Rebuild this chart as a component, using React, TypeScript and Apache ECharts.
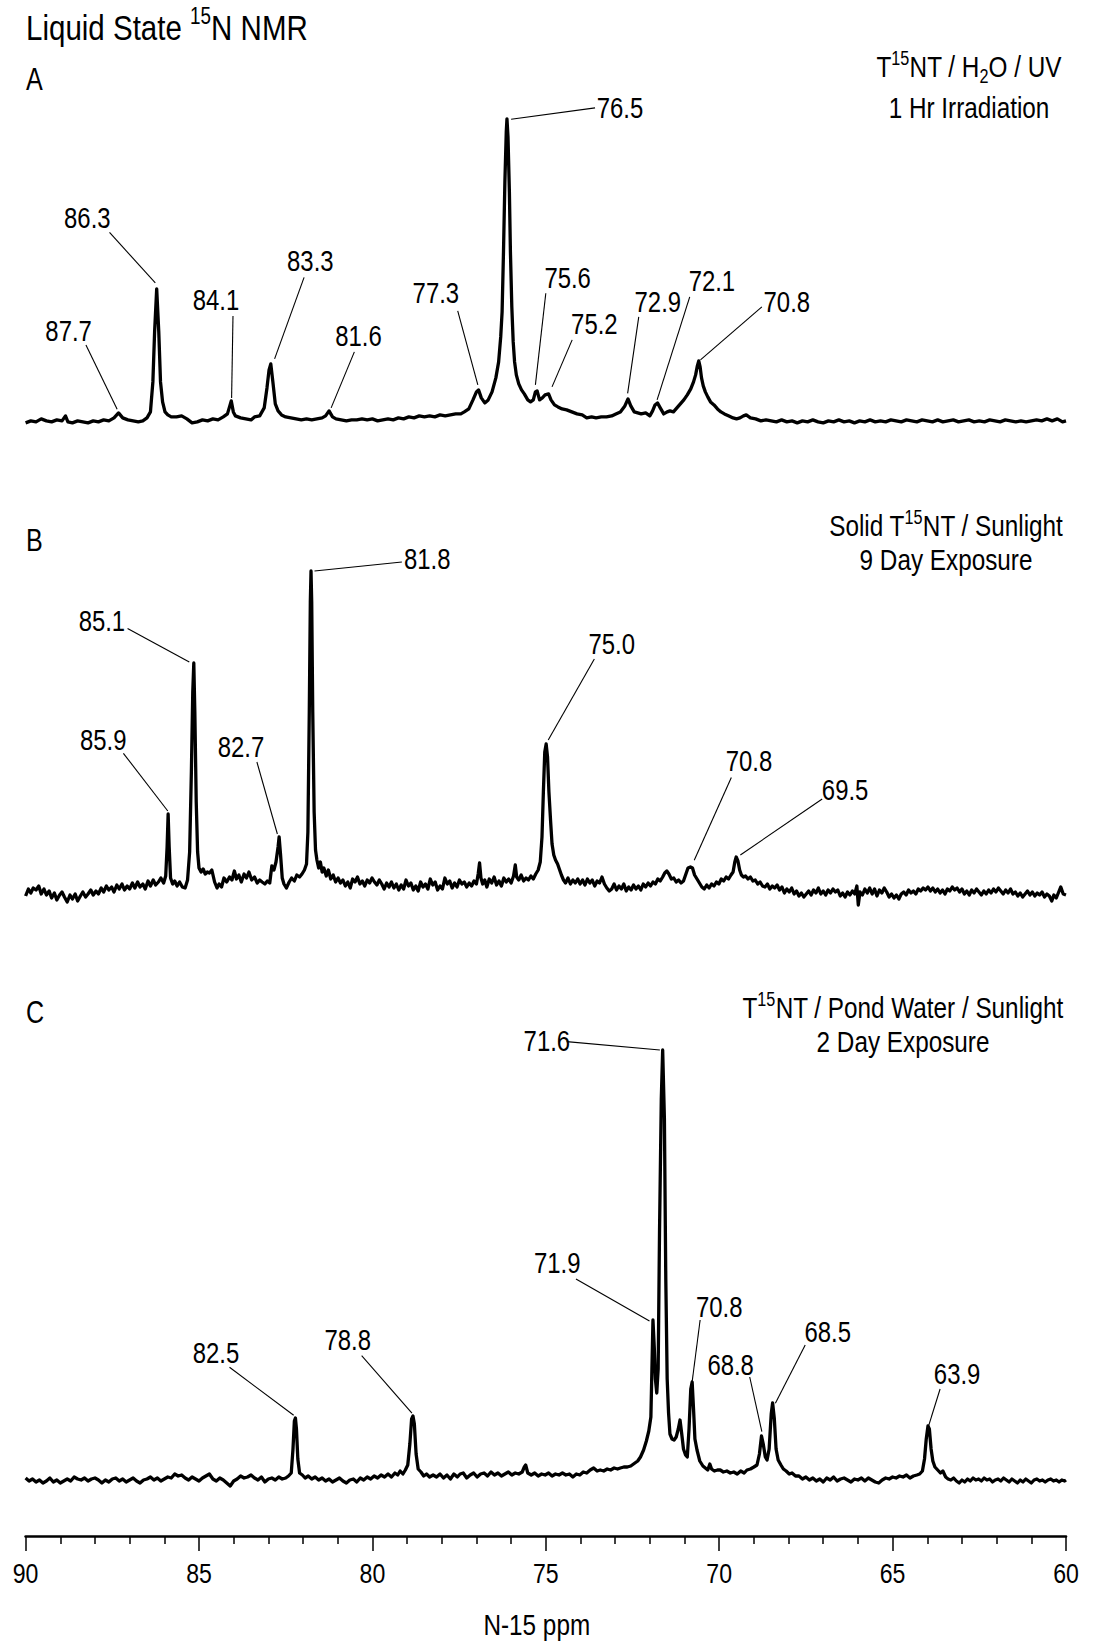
import React, { useEffect, useRef } from "react";
import * as echarts from "echarts";

const FONT = "'Liberation Sans', Arial, sans-serif";
const NARROW = 0.81;

// x tick values (ppm)
const xTicks = [90, 85, 80, 75, 70, 65, 60];
const xTitle = "N-15 ppm";

// Spectrum A: [ppm, intensity]
const spectrumA: number[][] = [
  [90.0, -1], [89.85, 1], [89.7, 0], [89.55, 3], [89.4, 1], [89.25, 0], [89.1, 2], [88.95, 1], [88.85, 6], [88.78, 0],
  [88.65, -1], [88.5, 1], [88.35, 0], [88.2, -1], [88.05, 1], [87.9, 0], [87.75, 2], [87.6, 1], [87.45, 4], [87.32, 9],
  [87.2, 4], [87.05, 2], [86.9, 1], [86.75, 0], [86.62, 1], [86.5, 4], [86.4, 10], [86.33, 40], [86.28, 90], [86.22, 133],
  [86.16, 90], [86.11, 40], [86.05, 20], [85.98, 10], [85.9, 7], [85.8, 5], [85.65, 5], [85.5, 6], [85.35, 3], [85.2, -1],
  [85.05, 0], [84.9, 2], [84.75, 1], [84.6, 3], [84.45, 2], [84.3, 5], [84.18, 8], [84.12, 15], [84.07, 21], [84.01, 10],
  [83.95, 6], [83.8, 4], [83.65, 3], [83.5, 2], [83.4, 5], [83.25, 6], [83.12, 14], [83.04, 34], [82.98, 52], [82.93, 58],
  [82.87, 40], [82.8, 18], [82.72, 11], [82.62, 7], [82.5, 5], [82.35, 4], [82.2, 3], [82.05, 2], [81.9, 3], [81.75, 2],
  [81.6, 3], [81.45, 4], [81.35, 6], [81.25, 11], [81.15, 5], [81.05, 3], [80.9, 2], [80.75, 1], [80.6, 2], [80.45, 2],
  [80.3, 3], [80.15, 2], [80.0, 3], [79.85, 1], [79.7, 2], [79.55, 3], [79.4, 2], [79.25, 4], [79.1, 3], [78.95, 5],
  [78.8, 4], [78.65, 6], [78.5, 5], [78.35, 6], [78.2, 5], [78.05, 7], [77.9, 6], [77.75, 7], [77.6, 8], [77.45, 8],
  [77.35, 10], [77.22, 13], [77.1, 22], [77.0, 30], [76.94, 32], [76.86, 24], [76.76, 19], [76.66, 22], [76.55, 30], [76.44, 44],
  [76.36, 60], [76.3, 85], [76.26, 110], [76.22, 170], [76.18, 240], [76.14, 290], [76.12, 303], [76.09, 285], [76.05, 230], [76.02, 170],
  [75.98, 115], [75.94, 80], [75.9, 60], [75.85, 47], [75.78, 38], [75.7, 32], [75.62, 28], [75.52, 22], [75.44, 20], [75.36, 22],
  [75.3, 30], [75.25, 31], [75.18, 22], [75.1, 24], [75.02, 27], [74.92, 28], [74.85, 22], [74.75, 17], [74.65, 15], [74.53, 13],
  [74.4, 12], [74.25, 10], [74.1, 8], [73.95, 7], [73.82, 4], [73.68, 5], [73.55, 4], [73.4, 5], [73.25, 5], [73.1, 6],
  [72.98, 8], [72.85, 10], [72.72, 16], [72.63, 23], [72.55, 16], [72.45, 10], [72.35, 9], [72.25, 8], [72.12, 9], [72.0, 6],
  [71.92, 11], [71.85, 17], [71.78, 19], [71.7, 14], [71.6, 8], [71.5, 10], [71.42, 11], [71.32, 10], [71.22, 14], [71.12, 18],
  [71.02, 22], [70.92, 27], [70.82, 33], [70.74, 40], [70.68, 47], [70.63, 56], [70.59, 61], [70.55, 55], [70.51, 44], [70.46, 36],
  [70.4, 30], [70.33, 25], [70.25, 20], [70.15, 17], [70.05, 13], [69.95, 10], [69.85, 8], [69.72, 6], [69.6, 4], [69.5, 3],
  [69.4, 4], [69.3, 6], [69.22, 7], [69.1, 4], [68.95, 3], [68.8, 1], [68.65, 2], [68.5, 1], [68.35, 0], [68.2, 2],
  [68.05, 0], [67.9, 1], [67.75, -1], [67.6, 1], [67.45, 0], [67.3, 2], [67.15, 0], [67.0, -1], [66.85, 1], [66.7, 0],
  [66.55, 2], [66.4, 0], [66.25, 1], [66.1, -1], [65.95, 1], [65.8, 0], [65.65, 2], [65.5, 0], [65.35, 1], [65.2, 0],
  [65.05, 2], [64.9, 1], [64.75, 0], [64.6, 2], [64.45, 1], [64.3, 0], [64.15, 2], [64.0, 1], [63.85, 0], [63.7, 2],
  [63.55, 0], [63.4, 1], [63.25, 2], [63.1, 0], [62.95, 1], [62.8, 2], [62.65, 0], [62.5, 1], [62.35, 0], [62.2, 2],
  [62.05, 1], [61.9, 0], [61.75, 2], [61.6, 1], [61.45, 0], [61.3, 1], [61.15, 0], [61.0, 1], [60.85, 2], [60.7, 1],
  [60.55, 3], [60.4, 1], [60.25, 3], [60.1, 0], [60.0, 1],
];

// Spectrum B
const spectrumB: number[][] = [
  [90.0, -4], [89.92, 3], [89.85, -1], [89.78, 4], [89.7, 2], [89.62, 6], [89.55, -2], [89.47, 3], [89.4, -3], [89.32, 1],
  [89.25, -6], [89.17, -1], [89.1, -8], [89.02, -3], [88.95, 0], [88.88, -5], [88.8, -10], [88.72, -3], [88.65, -7], [88.57, -2],
  [88.5, -9], [88.42, -4], [88.35, 0], [88.27, -5], [88.2, -2], [88.12, 2], [88.05, -3], [87.97, 1], [87.9, -2], [87.82, 4],
  [87.75, 0], [87.67, 6], [87.6, 2], [87.52, 5], [87.45, 0], [87.37, 7], [87.3, 3], [87.22, 8], [87.15, 2], [87.07, 6],
  [87.0, 3], [86.92, 9], [86.85, 4], [86.77, 10], [86.7, 5], [86.62, 8], [86.55, 3], [86.47, 11], [86.4, 6], [86.32, 12],
  [86.25, 7], [86.17, 10], [86.1, 14], [86.02, 9], [85.96, 16], [85.92, 45], [85.89, 78], [85.86, 45], [85.82, 14], [85.76, 8],
  [85.7, 11], [85.63, 6], [85.56, 10], [85.48, 5], [85.4, 4], [85.33, 12], [85.27, 40], [85.22, 120], [85.18, 200], [85.15, 229],
  [85.12, 180], [85.08, 90], [85.04, 40], [85.0, 24], [84.94, 20], [84.88, 23], [84.82, 18], [84.76, 20], [84.7, 19], [84.63, 22],
  [84.55, 10], [84.48, 4], [84.42, 8], [84.35, 5], [84.28, 14], [84.2, 10], [84.12, 15], [84.05, 12], [83.98, 21], [83.92, 13],
  [83.85, 17], [83.78, 10], [83.7, 18], [83.63, 14], [83.56, 20], [83.48, 12], [83.4, 15], [83.32, 9], [83.25, 12], [83.18, 10],
  [83.1, 8], [83.03, 11], [82.96, 9], [82.9, 26], [82.84, 22], [82.78, 30], [82.72, 45], [82.69, 55], [82.65, 38], [82.6, 14],
  [82.55, 8], [82.48, 4], [82.4, 10], [82.33, 14], [82.25, 11], [82.18, 17], [82.1, 15], [82.03, 18], [81.96, 22], [81.9, 28],
  [81.86, 60], [81.82, 180], [81.79, 290], [81.77, 321], [81.75, 290], [81.72, 180], [81.68, 80], [81.64, 42], [81.6, 32], [81.55, 24],
  [81.5, 30], [81.45, 20], [81.4, 24], [81.33, 16], [81.27, 22], [81.2, 13], [81.13, 17], [81.06, 10], [80.99, 14], [80.92, 9],
  [80.85, 12], [80.78, 6], [80.71, 10], [80.64, 4], [80.57, 13], [80.5, 10], [80.43, 15], [80.36, 8], [80.29, 11], [80.22, 6],
  [80.15, 12], [80.08, 9], [80.01, 14], [79.94, 10], [79.87, 7], [79.8, 12], [79.73, 8], [79.66, 3], [79.59, 9], [79.52, 5],
  [79.45, 10], [79.38, 4], [79.31, 8], [79.24, 2], [79.17, 7], [79.1, 3], [79.03, 12], [78.96, 6], [78.89, 9], [78.82, 2],
  [78.75, 6], [78.68, 1], [78.61, 10], [78.54, 5], [78.47, 8], [78.4, 3], [78.33, 13], [78.26, 7], [78.19, 10], [78.12, 2],
  [78.05, 6], [77.98, 3], [77.91, 14], [77.84, 8], [77.77, 11], [77.7, 4], [77.63, 9], [77.56, 5], [77.49, 12], [77.42, 8],
  [77.35, 10], [77.28, 5], [77.21, 9], [77.14, 6], [77.07, 11], [77.0, 8], [76.95, 18], [76.91, 29], [76.87, 14], [76.82, 8],
  [76.76, 12], [76.7, 5], [76.63, 13], [76.56, 9], [76.49, 15], [76.42, 7], [76.35, 11], [76.28, 6], [76.21, 14], [76.14, 10],
  [76.07, 13], [76.0, 9], [75.93, 16], [75.88, 27], [75.84, 15], [75.78, 12], [75.71, 17], [75.64, 11], [75.57, 14], [75.5, 12],
  [75.43, 16], [75.36, 13], [75.29, 18], [75.22, 22], [75.16, 30], [75.11, 55], [75.07, 100], [75.03, 140], [74.99, 148], [74.95, 135],
  [74.91, 100], [74.86, 70], [74.82, 48], [74.77, 37], [74.72, 32], [74.66, 28], [74.6, 22], [74.55, 17], [74.49, 12], [74.43, 9],
  [74.36, 14], [74.29, 8], [74.22, 12], [74.15, 9], [74.08, 13], [74.01, 8], [73.94, 12], [73.87, 7], [73.8, 13], [73.73, 9],
  [73.66, 12], [73.59, 6], [73.52, 11], [73.45, 9], [73.38, 15], [73.31, 8], [73.24, 4], [73.17, 1], [73.1, 3], [73.03, 8],
  [72.96, 2], [72.89, 6], [72.82, 3], [72.75, 8], [72.68, 1], [72.61, 5], [72.54, 2], [72.47, 7], [72.4, 3], [72.33, 6],
  [72.26, 2], [72.19, 8], [72.12, 5], [72.05, 9], [71.98, 6], [71.91, 10], [71.84, 8], [71.77, 13], [71.7, 11], [71.63, 15],
  [71.57, 19], [71.51, 21], [71.45, 18], [71.38, 13], [71.31, 14], [71.24, 10], [71.17, 12], [71.1, 9], [71.03, 11], [70.96, 18],
  [70.9, 24], [70.83, 25], [70.77, 24], [70.71, 17], [70.64, 13], [70.57, 9], [70.5, 5], [70.43, 3], [70.36, 7], [70.29, 4],
  [70.22, 8], [70.15, 6], [70.08, 10], [70.01, 8], [69.94, 13], [69.87, 11], [69.8, 15], [69.73, 13], [69.66, 17], [69.6, 20],
  [69.55, 30], [69.51, 35], [69.46, 31], [69.41, 22], [69.36, 17], [69.3, 15], [69.24, 16], [69.17, 13], [69.1, 15], [69.03, 11],
  [68.96, 12], [68.89, 8], [68.82, 10], [68.75, 6], [68.68, 5], [68.61, 8], [68.54, 3], [68.47, 6], [68.4, 4], [68.33, 7],
  [68.26, 2], [68.19, 5], [68.12, -1], [68.05, 3], [67.98, 0], [67.91, 4], [67.84, -2], [67.77, 1], [67.7, -4], [67.63, -1],
  [67.56, -5], [67.49, -2], [67.42, 1], [67.35, -3], [67.28, 2], [67.21, -1], [67.14, 4], [67.07, -2], [67.0, 1], [66.93, -3],
  [66.86, 2], [66.79, -1], [66.72, 3], [66.65, 0], [66.58, 2], [66.51, -4], [66.44, -1], [66.37, -5], [66.3, 0], [66.23, -3],
  [66.16, 1], [66.09, -2], [66.03, 6], [65.99, -13], [65.94, 0], [65.87, -3], [65.8, 3], [65.73, -1], [65.66, 4], [65.59, -2],
  [65.52, 3], [65.45, -4], [65.38, 2], [65.31, -1], [65.24, 4], [65.17, 0], [65.1, -5], [65.03, -2], [64.96, -6], [64.89, -3],
  [64.82, -7], [64.75, -2], [64.68, 0], [64.61, -3], [64.54, 2], [64.47, -1], [64.4, 1], [64.33, -2], [64.26, 3], [64.19, 1],
  [64.12, 4], [64.05, 2], [63.98, 5], [63.91, 1], [63.84, 4], [63.77, 0], [63.7, 3], [63.63, -1], [63.56, 2], [63.49, -2],
  [63.42, 3], [63.35, 1], [63.28, 5], [63.21, 2], [63.14, 4], [63.07, 0], [63.0, 3], [62.93, -2], [62.86, 1], [62.79, -3],
  [62.72, 2], [62.65, -1], [62.58, 3], [62.51, 0], [62.44, -3], [62.37, 1], [62.3, -2], [62.23, 2], [62.16, -1], [62.09, 3],
  [62.02, 0], [61.95, 4], [61.88, 1], [61.81, -2], [61.74, 2], [61.67, -1], [61.6, 3], [61.53, -2], [61.46, 0], [61.39, -4],
  [61.32, -1], [61.25, -5], [61.18, -2], [61.11, 1], [61.04, -3], [60.97, 0], [60.9, -4], [60.83, -1], [60.76, -3], [60.69, 0],
  [60.62, -5], [60.55, -2], [60.48, -4], [60.41, -9], [60.35, -3], [60.28, -6], [60.21, 0], [60.15, 5], [60.08, -2], [60.0, -3],
];

// Spectrum C
const spectrumC: number[][] = [
  [90.0, 1], [89.9, -2], [89.8, 0], [89.7, -3], [89.6, -1], [89.5, -4], [89.4, -2], [89.3, 1], [89.2, -3], [89.1, -1],
  [89.0, -4], [88.9, -2], [88.8, 0], [88.7, -2], [88.6, 2], [88.5, 0], [88.4, -1], [88.3, 1], [88.2, -2], [88.1, 0],
  [88.0, 1], [87.9, -1], [87.8, -4], [87.7, -1], [87.6, -3], [87.5, 0], [87.4, 1], [87.3, -2], [87.2, 0], [87.1, -3],
  [87.0, -1], [86.9, 1], [86.8, -2], [86.7, -4], [86.6, -1], [86.5, 0], [86.4, 2], [86.3, -1], [86.2, 1], [86.1, -2],
  [86.0, 0], [85.9, 2], [85.8, 1], [85.7, 5], [85.6, 3], [85.5, 4], [85.4, 1], [85.3, -1], [85.2, 2], [85.1, 0],
  [85.0, -2], [84.9, 1], [84.8, 3], [84.7, 5], [84.6, 0], [84.5, -2], [84.4, 1], [84.3, -1], [84.2, -4], [84.1, -7],
  [84.0, -2], [83.9, 0], [83.8, 3], [83.7, 1], [83.6, 2], [83.5, 4], [83.4, 1], [83.3, -1], [83.2, 2], [83.1, -3],
  [83.0, 0], [82.9, 1], [82.8, -1], [82.7, 2], [82.6, 0], [82.5, 1], [82.42, 3], [82.34, 6], [82.29, 30], [82.25, 58],
  [82.22, 61], [82.19, 50], [82.15, 20], [82.1, 6], [82.02, 4], [81.94, 1], [81.85, 3], [81.75, 0], [81.65, 2], [81.55, -1],
  [81.45, 1], [81.35, -2], [81.25, 0], [81.15, -3], [81.05, -1], [80.95, 1], [80.85, -2], [80.75, -4], [80.65, -1], [80.55, 0],
  [80.45, -3], [80.35, 1], [80.25, -1], [80.15, 2], [80.05, 0], [79.95, 3], [79.85, 1], [79.75, 4], [79.65, 2], [79.55, 5],
  [79.45, 2], [79.35, 6], [79.27, 4], [79.2, 8], [79.12, 5], [79.05, 9], [78.98, 14], [78.92, 35], [78.87, 60], [78.83, 63],
  [78.79, 55], [78.74, 25], [78.68, 10], [78.6, 7], [78.52, 3], [78.44, 5], [78.35, 2], [78.25, 4], [78.15, 2], [78.05, 5],
  [77.95, 1], [77.85, 4], [77.75, 0], [77.65, 5], [77.55, 2], [77.47, 5], [77.38, 6], [77.28, 1], [77.18, 4], [77.08, 6],
  [76.98, 2], [76.88, 5], [76.78, 6], [76.68, 3], [76.58, 7], [76.48, 4], [76.38, 6], [76.28, 3], [76.18, 5], [76.08, 7],
  [75.98, 4], [75.88, 6], [75.78, 5], [75.68, 7], [75.62, 12], [75.58, 14], [75.52, 6], [75.42, 4], [75.32, 6], [75.22, 3],
  [75.12, 5], [75.02, 4], [74.92, 6], [74.82, 3], [74.72, 5], [74.62, 4], [74.52, 6], [74.42, 4], [74.32, 5], [74.22, 2],
  [74.12, 5], [74.02, 4], [73.92, 7], [73.82, 6], [73.72, 9], [73.62, 11], [73.52, 8], [73.43, 9], [73.33, 8], [73.23, 10],
  [73.13, 9], [73.03, 11], [72.93, 10], [72.85, 11], [72.75, 12], [72.65, 12], [72.55, 13], [72.47, 15], [72.35, 18], [72.27, 22],
  [72.18, 29], [72.1, 38], [72.03, 48], [71.97, 62], [71.94, 110], [71.91, 159], [71.87, 130], [71.84, 100], [71.8, 86], [71.76, 110],
  [71.72, 250], [71.67, 380], [71.63, 429], [71.58, 360], [71.54, 200], [71.5, 100], [71.46, 66], [71.42, 45], [71.36, 40], [71.3, 39],
  [71.24, 42], [71.18, 50], [71.13, 59], [71.08, 45], [71.03, 30], [70.97, 24], [70.92, 22], [70.87, 50], [70.82, 90], [70.78, 97],
  [70.74, 70], [70.7, 40], [70.64, 29], [70.56, 18], [70.47, 13], [70.4, 11], [70.33, 9], [70.27, 15], [70.22, 10], [70.14, 8],
  [70.05, 9], [69.97, 9], [69.88, 7], [69.78, 8], [69.68, 6], [69.58, 7], [69.48, 5], [69.38, 8], [69.28, 6], [69.2, 9],
  [69.1, 10], [69.0, 12], [68.91, 14], [68.84, 25], [68.78, 43], [68.73, 35], [68.67, 22], [68.62, 19], [68.56, 30], [68.5, 65],
  [68.46, 76], [68.41, 60], [68.36, 30], [68.3, 19], [68.22, 14], [68.15, 10], [68.07, 8], [67.98, 5], [67.9, 6], [67.8, 3],
  [67.7, 3], [67.6, 0], [67.5, 2], [67.4, -1], [67.3, 1], [67.2, -2], [67.1, 0], [67.0, -3], [66.9, 1], [66.8, -1],
  [66.7, 2], [66.6, -2], [66.5, 0], [66.4, 1], [66.3, -1], [66.2, -3], [66.1, 0], [66.0, -1], [65.9, 1], [65.8, -2],
  [65.7, 1], [65.6, -1], [65.5, -3], [65.4, -4], [65.3, -1], [65.2, 1], [65.1, 0], [65.0, 2], [64.9, 1], [64.8, 3],
  [64.7, 2], [64.6, 4], [64.5, 1], [64.4, 3], [64.3, 4], [64.22, 5], [64.14, 8], [64.08, 20], [64.03, 40], [63.98, 53],
  [63.94, 50], [63.89, 30], [63.84, 18], [63.78, 12], [63.7, 9], [63.62, 6], [63.55, 8], [63.47, 2], [63.4, 0], [63.32, -1],
  [63.24, 1], [63.16, -2], [63.08, -4], [63.0, -1], [62.92, -3], [62.84, 0], [62.76, -2], [62.68, 1], [62.6, -1], [62.52, 0],
  [62.44, -2], [62.36, 1], [62.28, -1], [62.2, 0], [62.12, -3], [62.04, -1], [61.96, 0], [61.88, -2], [61.8, 1], [61.72, -1],
  [61.64, -3], [61.56, 0], [61.48, -2], [61.4, -4], [61.32, -1], [61.24, -3], [61.16, 0], [61.08, -2], [61.0, -4], [60.92, -1],
  [60.84, 0], [60.76, -2], [60.68, -1], [60.6, -3], [60.52, -1], [60.44, 0], [60.36, -2], [60.28, -1], [60.2, -3], [60.12, -1],
  [60.04, -2], [60.0, -1],
];

// Peak annotations: [label, labelPpm, labelY, lineFromPpm, lineFromY, lineToPpm, lineToY]
const peaksA: (string | number)[][] = [
  ["86.3", 88.22, 204, 87.58, 189.5, 86.26, 139],
  ["87.7", 88.76, 91, 88.26, 77, 87.36, 12.6],
  ["84.1", 84.51, 121.5, 84.02, 106, 84.06, 24],
  ["83.3", 81.79, 161, 81.97, 144.5, 82.82, 63],
  ["81.6", 80.4, 86, 80.52, 70, 81.19, 14],
  ["77.3", 78.17, 129, 77.54, 111, 76.96, 37],
  ["76.5", 72.86, 314, 73.58, 314, 76.0, 302.6],
  ["75.6", 74.37, 144, 75.0, 128.6, 75.3, 37],
  ["75.2", 73.6, 98, 74.24, 82, 74.82, 35],
  ["72.9", 71.77, 119.4, 72.32, 105, 72.64, 28.6],
  ["72.1", 70.21, 141, 70.85, 125, 71.79, 22],
  ["70.8", 68.05, 119.4, 68.77, 115, 70.54, 62],
];
const peaksB: (string | number)[][] = [
  ["85.1", 87.8, 271, 87.06, 263.5, 85.28, 230],
  ["85.9", 87.76, 152, 87.18, 138.7, 85.9, 81],
  ["82.7", 83.79, 145, 83.33, 130, 82.74, 58],
  ["81.8", 78.42, 332.5, 79.15, 330, 81.67, 321],
  ["75.0", 73.1, 248, 73.6, 233, 74.93, 152],
  ["70.8", 69.14, 131, 69.65, 114.5, 70.72, 31.7],
  ["69.5", 66.37, 102, 67.03, 93, 69.39, 37],
];
const peaksC: (string | number)[][] = [
  ["71.6", 74.97, 437.4, 74.4, 437.4, 71.71, 429],
  ["71.9", 74.67, 215.5, 74.13, 200, 72.01, 158],
  ["70.8", 70.0, 171.5, 70.55, 159, 70.78, 97.3],
  ["68.8", 69.67, 114, 69.12, 102, 68.77, 47.3],
  ["68.5", 66.87, 146.5, 67.52, 134, 68.38, 75.7],
  ["82.5", 84.51, 125.5, 84.12, 111.7, 82.27, 63.7],
  ["78.8", 80.71, 139, 80.31, 123.3, 78.86, 65.8],
  ["63.9", 63.14, 104.6, 63.63, 90, 63.96, 53.3],
];

const panelTexts = [
  { letter: "A", line1: "T{sup|15}NT / H{sub|2}O / UV", line2: "1 Hr Irradiation" },
  { letter: "B", line1: "Solid T{sup|15}NT / Sunlight", line2: "9 Day Exposure" },
  { letter: "C", line1: "T{sup|15}NT / Pond Water / Sunlight", line2: "2 Day Exposure" },
];

const richStyles = {
  n: { fontSize: 30, lineHeight: 38, fontFamily: FONT, fill: "#000", verticalAlign: "middle" },
  sup: { fontSize: 20, lineHeight: 20, fontFamily: FONT, fill: "#000", verticalAlign: "top" },
  sub: { fontSize: 20, lineHeight: 16, fontFamily: FONT, fill: "#000", verticalAlign: "bottom" },
};

function wrapRich(s: string) {
  const parts = s.split(/(\{sup\|[^}]*\}|\{sub\|[^}]*\})/).filter((p) => p.length);
  return parts.map((p) => (p.startsWith("{") ? p : `{n|${p}}`)).join("");
}

export default function App() {
  const ref = useRef<HTMLDivElement>(null);
  useEffect(() => {
    if (!ref.current) return;
    const chart = echarts.init(ref.current, null, { renderer: "svg" });

    const gridDefs = [
      { top: 91.9, height: 350, yMin: -20, yMax: 330 },
      { top: 542, height: 370, yMin: -20, yMax: 350 },
      { top: 1029, height: 507, yMin: -57, yMax: 450 },
    ];
    const spectra = [spectrumA, spectrumB, spectrumC];
    const peaks = [peaksA, peaksB, peaksC];

    const grid = gridDefs.map((g) => ({ left: 25.6, right: 31, top: g.top, height: g.height }));
    const xAxis = gridDefs.map((g, i) => ({
      type: "value",
      gridIndex: i,
      min: 60,
      max: 90,
      interval: 5,
      inverse: true,
      show: i === 2,
      axisLine: { show: true, onZero: false, lineStyle: { color: "#000", width: 2.6 } },
      axisTick: { show: true, length: 15, lineStyle: { color: "#000", width: 1.5 } },
      minorTick: { show: true, splitNumber: 5, length: 8, lineStyle: { color: "#000", width: 1.5 } },
      splitLine: { show: false },
      axisLabel: { show: false },
    }));
    const yAxis = gridDefs.map((g, i) => ({
      type: "value",
      gridIndex: i,
      min: g.yMin,
      max: g.yMax,
      show: false,
      splitLine: { show: false },
    }));

    const series: any[] = [];
    spectra.forEach((d, i) => {
      series.push({
        type: "line",
        xAxisIndex: i,
        yAxisIndex: i,
        data: d,
        showSymbol: false,
        symbol: "none",
        lineStyle: { color: "#000", width: 3.3, join: "round" },
        silent: true,
        z: 2,
      });
    });
    peaks.forEach((list, i) => {
      series.push({
        type: "lines",
        coordinateSystem: "cartesian2d",
        xAxisIndex: i,
        yAxisIndex: i,
        silent: true,
        lineStyle: { color: "#000", width: 1.1, opacity: 1 },
        data: list.map((p) => ({ coords: [[p[3], p[4]], [p[5], p[6]]] })),
        z: 3,
      });
    });

    chart.setOption({
      animation: false,
      backgroundColor: "#fff",
      grid,
      xAxis,
      yAxis,
      series,
    });

    const narrowText = (x: number, y: number, text: string, size: number, align = "center") => ({
      type: "text",
      x,
      y,
      scaleX: NARROW,
      style: { text, fontSize: size, fontFamily: FONT, fill: "#000", align, verticalAlign: "middle" },
    });

    const graphic: any[] = [
      {
        type: "text",
        x: 26,
        y: 27,
        scaleX: 0.82,
        style: {
          text: "{t|Liquid State }{ts|15}{t|N NMR}",
          align: "left",
          verticalAlign: "middle",
          rich: {
            t: { fontSize: 36, lineHeight: 46, fontFamily: FONT, fill: "#000", verticalAlign: "middle" },
            ts: { fontSize: 23, lineHeight: 23, fontFamily: FONT, fill: "#000", verticalAlign: "top" },
          },
        },
      },
    ];

    const letterY = [79, 540, 1012];
    const subX = [969, 946, 903];
    const subY1 = [67, 526, 1008];
    const subY2 = [107.5, 560, 1042];
    panelTexts.forEach((p, i) => {
      graphic.push(narrowText(26, letterY[i], p.letter, 31, "left"));
      graphic.push({
        type: "text",
        x: subX[i],
        y: subY1[i],
        scaleX: NARROW,
        style: { text: wrapRich(p.line1), align: "center", verticalAlign: "middle", rich: richStyles },
      });
      graphic.push(narrowText(subX[i], subY2[i], p.line2, 30));
    });

    // peak labels placed through the axes' scales
    peaks.forEach((list, i) => {
      list.forEach((p) => {
        const pt = chart.convertToPixel({ gridIndex: i } as any, [p[1] as number, p[2] as number]) as number[];
        graphic.push(narrowText(pt[0], pt[1], String(p[0]), 29.5));
      });
    });

    // x tick labels and axis title
    const base = chart.convertToPixel({ gridIndex: 2 } as any, [75, gridDefs[2].yMin]) as number[];
    xTicks.forEach((v) => {
      const pt = chart.convertToPixel({ gridIndex: 2 } as any, [v, gridDefs[2].yMin]) as number[];
      graphic.push(narrowText(pt[0], pt[1] + 37, String(v), 28.5));
    });
    graphic.push(narrowText(base[0] - 9, base[1] + 89, xTitle, 30));

    chart.setOption({ graphic });
    return () => chart.dispose();
  }, []);

  return (
    <div
      ref={ref}
      style={{ position: "absolute", left: 0, top: 0, width: 1097, height: 1642, background: "#fff" }}
    />
  );
}
